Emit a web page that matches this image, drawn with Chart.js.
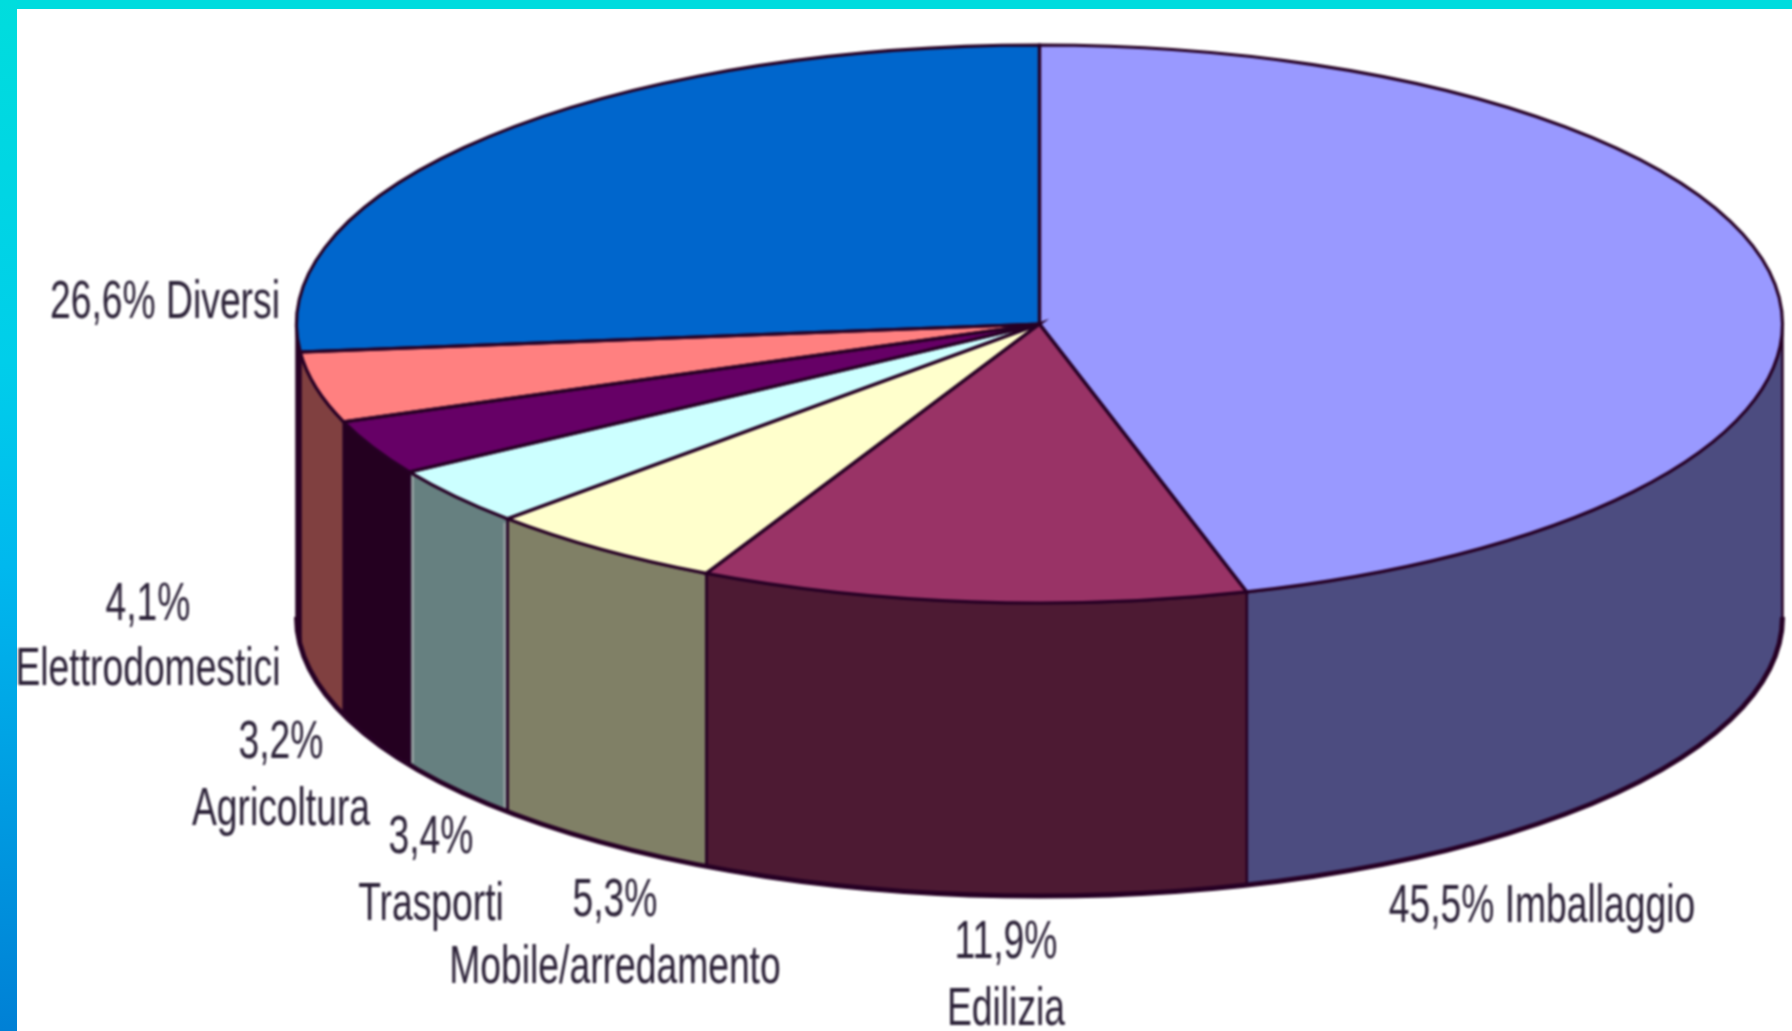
<!DOCTYPE html>
<html>
<head>
<meta charset="utf-8">
<script src="https://cdn.jsdelivr.net/npm/chart.js@4"></script>
<style>
  html,body{margin:0;padding:0;background:#fff;width:1792px;height:1031px;overflow:hidden}
  #top{position:absolute;left:0;top:0;width:1792px;height:9px;background:#00DCDE}
  #left{position:absolute;left:0;top:0;width:17px;height:1031px;
        background:linear-gradient(to bottom,#00DDDD 0%,#00CEEA 35%,#00B8EE 55%,#0080D5 100%)}
  #c{position:absolute;left:0;top:0;width:1792px;height:1031px;filter:blur(1px)}
</style>
</head>
<body>
<div id="top"></div><div id="left"></div>
<canvas id="c" width="1792" height="1031"></canvas>
<script>
const categories = ['Imballaggio','Edilizia','Mobile/arredamento','Trasporti','Agricoltura','Elettrodomestici','Diversi'];
const values = [45.5, 11.9, 5.3, 3.4, 3.2, 4.1, 26.6];
const topColors = ['#9999FF','#993366','#FFFFCC','#CCFFFF','#660066','#FF8080','#0066CC'];
const wallColors = ['#4C4C80','#4D1A33','#808066','#668080','#240020','#804040','#260024'];

// Layout of the drawing (pixels)
const CX = 1039.5, CY = 324, RX = 743, RY = 279, DEPTH = 293;
const TILT = RY / RX;
const INK = '#260024';
// Label anchors: [centre x, baseline y of first line, baseline of second line or null]
const labelPos = [
  [1542, 922, null],
  [1006, 958, 1025],
  [615, 916, 983],
  [431, 853, 920],
  [281, 758, 825],
  [148, 620, 685],
  [165, 318, null]
];
const FONT_PX = 54, SQUEEZE = 0.69;

const pct = v => v.toFixed(1).replace('.', ',') + '%';

const pie3d = {
  id: 'pie3d',
  beforeDatasetsDraw(chart) {
    const ctx = chart.ctx, arcs = chart.getDatasetMeta(0).data;
    ctx.save();
    arcs.forEach((a, i) => {
      const s = Math.max(a.startAngle, 0), e = Math.min(a.endAngle, Math.PI);
      if (e <= s) return;
      ctx.beginPath();
      ctx.ellipse(CX, CY, RX, RY, 0, s, e);
      ctx.ellipse(CX, CY + DEPTH, RX, RY, 0, e, s, true);
      ctx.closePath();
      ctx.fillStyle = wallColors[i];
      ctx.fill();
      ctx.lineWidth = 2.5;
      ctx.strokeStyle = INK;
      ctx.stroke();
    });
    // pale highlights beside two of the wall seams
    [[arcs[3].endAngle, 3], [arcs[2].endAngle, -3]].forEach(([ang, dx]) => {
      const x = CX + RX * Math.cos(ang) + dx, y = CY + RY * Math.sin(ang);
      ctx.beginPath();
      ctx.moveTo(x, y + 4);
      ctx.lineTo(x, y + DEPTH - 2);
      ctx.lineWidth = 2;
      ctx.strokeStyle = '#A0A8A8';
      ctx.stroke();
    });
    // heavier bottom rim
    ctx.beginPath();
    ctx.ellipse(CX, CY + DEPTH, RX, RY, 0, 0, Math.PI);
    ctx.lineWidth = 5;
    ctx.strokeStyle = INK;
    ctx.stroke();
    ctx.restore();
    // flatten the library's own pie into the tilted top face
    const a0 = arcs[0];
    ctx.save();
    ctx.translate(CX, CY);
    ctx.scale(1, TILT);
    ctx.translate(-a0.x, -a0.y);
  },
  afterDatasetsDraw(chart) {
    const ctx = chart.ctx, arcs = chart.getDatasetMeta(0).data;
    // outlines: path in tilted space, stroked with an untransformed pen
    arcs.forEach(a => {
      ctx.beginPath();
      ctx.moveTo(a.x, a.y);
      ctx.arc(a.x, a.y, a.outerRadius, a.startAngle, a.endAngle);
      ctx.closePath();
      ctx.save();
      ctx.setTransform(chart.currentDevicePixelRatio, 0, 0, chart.currentDevicePixelRatio, 0, 0);
      ctx.lineWidth = 3.2;
      ctx.strokeStyle = INK;
      ctx.stroke();
      ctx.restore();
    });
    ctx.restore();
  },
  afterDraw(chart) {
    const ctx = chart.ctx;
    ctx.save();
    ctx.fillStyle = '#2C2238';
    ctx.textAlign = 'center';
    ctx.textBaseline = 'alphabetic';
    ctx.font = FONT_PX + 'px "Liberation Sans"';
    const put = (t, x, y) => {
      ctx.save();
      ctx.translate(x, y);
      ctx.scale(SQUEEZE, 1);
      ctx.fillText(t, 0, 0);
      ctx.restore();
    };
    categories.forEach((name, i) => {
      const [x, y1, y2] = labelPos[i];
      if (y2 === null) {
        put(pct(values[i]) + ' ' + name, x, y1);
      } else {
        put(pct(values[i]), x, y1);
        put(name, x, y2);
      }
    });
    ctx.restore();
  }
};

new Chart(document.getElementById('c'), {
  type: 'pie',
  data: {
    labels: categories,
    datasets: [{
      data: values,
      backgroundColor: topColors,
      borderWidth: 0,
      radius: RX,
      clip: false
    }]
  },
  options: {
    responsive: false,
    devicePixelRatio: 1,
    animation: false,
    events: [],
    layout: { padding: 0 },
    plugins: { legend: { display: false }, tooltip: { enabled: false } }
  },
  plugins: [pie3d]
});
</script>
</body>
</html>
